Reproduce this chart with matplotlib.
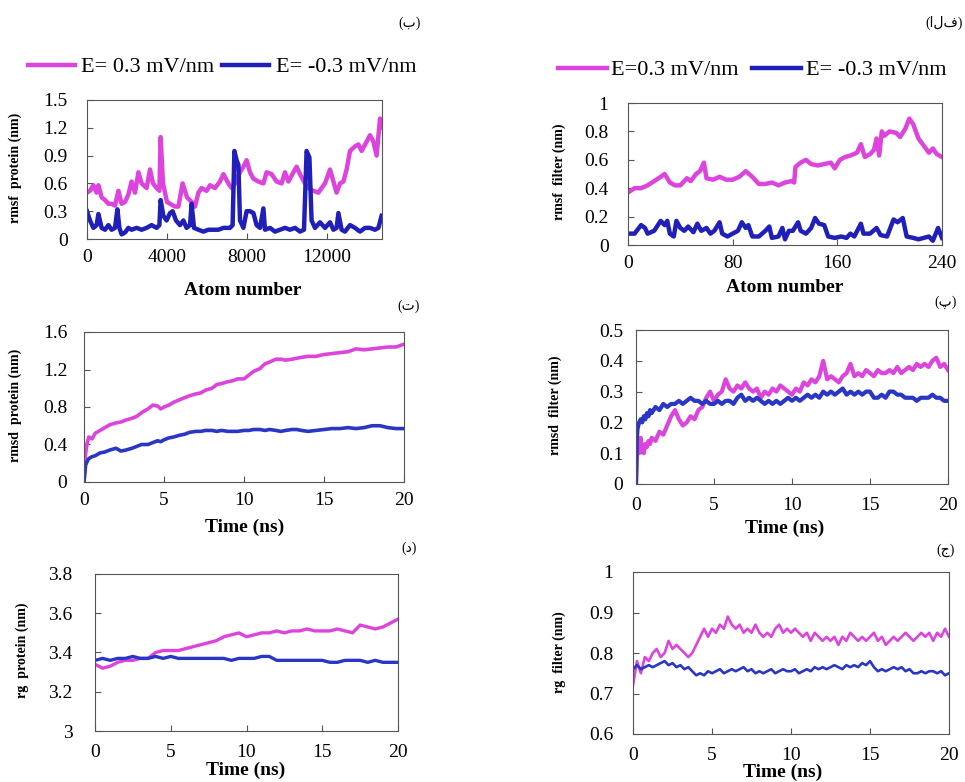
import matplotlib
matplotlib.use("Agg")
import matplotlib.pyplot as plt

plt.rcParams['font.family'] = ['Liberation Serif', 'DejaVu Sans']

PINK = '#DD44DD'
BLUE = '#2020B8'
BLUE2 = '#2A36C4'
LAB_POS = 'E= 0.3 mV/nm'
LAB_POS2 = 'E=0.3 mV/nm'
LAB_NEG = 'E= -0.3 mV/nm'

# ---------------- (ب) rmsf protein ----------------
rmsfp_pos_atom = [0, 150, 320, 480, 570, 730, 900, 1070, 1230, 1400, 1570, 1730, 1900, 2070, 2230,
                  2400, 2570, 2730, 2980, 3150, 3300, 3480, 3620, 3680, 3800, 4000, 4150, 4400,
                  4570, 4780, 5000, 5230, 5400, 5570, 5730, 5980, 6150, 6400, 6650, 6820, 7070,
                  7230, 7400, 7650, 7820, 7980, 8150, 8320, 8570, 8820, 8980, 9230, 9480, 9730,
                  9900, 10070, 10320, 10480, 10650, 10900, 11070, 11320, 11570, 11730, 11900,
                  12150, 12320, 12480, 12650, 12820, 12980, 13150, 13400, 13570, 13730, 13980,
                  14150, 14320, 14480, 14650, 14730]
rmsfp_pos = [0.50, 0.52, 0.58, 0.50, 0.58, 0.45, 0.42, 0.38, 0.38, 0.36, 0.52, 0.38, 0.40, 0.48, 0.62,
             0.50, 0.72, 0.60, 0.55, 0.75, 0.60, 0.55, 0.52, 1.10, 0.60, 0.40, 0.38, 0.35,
             0.35, 0.60, 0.45, 0.40, 0.35, 0.50, 0.55, 0.52, 0.58, 0.55, 0.62, 0.70, 0.60,
             0.55, 0.60, 0.72, 0.78, 0.85, 0.72, 0.65, 0.62, 0.60, 0.72, 0.70, 0.62, 0.60,
             0.72, 0.62, 0.72, 0.78, 0.70, 0.60, 0.55, 0.52, 0.50, 0.55, 0.60,
             0.75, 0.62, 0.50, 0.60, 0.62, 0.75, 0.95, 1.00, 1.02, 0.95, 1.05,
             1.12, 1.05, 0.90, 1.30, 1.20]
rmsfp_neg_atom = [0, 150, 320, 480, 570, 730, 900, 1070, 1230, 1400, 1520, 1620, 1730, 1900, 2070,
                  2230, 2480, 2730, 2980, 3230, 3480, 3620, 3680, 3820, 3980, 4150, 4280, 4450,
                  4650, 4820, 4980, 5150, 5230, 5350, 5570, 5820, 6070, 6320, 6570, 6820, 7150,
                  7280, 7370, 7480, 7570, 7650, 7820, 7980, 8150, 8320, 8480, 8650, 8820, 8900,
                  9150, 9400, 9650, 9900, 10150, 10400, 10650, 10850, 10980, 11120, 11230, 11400,
                  11650, 11900, 12150, 12320, 12480, 12570, 12730, 12900, 13150, 13400, 13650,
                  13900, 14150, 14400, 14570, 14730]
rmsfp_neg = [0.30, 0.20, 0.12, 0.15, 0.27, 0.12, 0.10, 0.15, 0.10, 0.12, 0.32, 0.12, 0.05, 0.07, 0.12,
             0.10, 0.12, 0.10, 0.12, 0.15, 0.12, 0.15, 0.42, 0.25, 0.20, 0.28, 0.30, 0.20,
             0.15, 0.20, 0.12, 0.15, 0.38, 0.12, 0.10, 0.08, 0.10, 0.10, 0.10, 0.12, 0.12,
             0.15, 0.95, 0.85, 0.80, 0.20, 0.12, 0.30, 0.30, 0.28, 0.15, 0.12, 0.33, 0.10,
             0.12, 0.08, 0.10, 0.12, 0.10, 0.12, 0.08, 0.10, 0.95, 0.88, 0.20, 0.12,
             0.18, 0.12, 0.18, 0.10, 0.12, 0.28, 0.10, 0.08, 0.15, 0.12, 0.08,
             0.12, 0.12, 0.10, 0.12, 0.25]

# ---------------- (الف) rmsf filter ----------------
rmsff_pos_atom = [0, 5, 10, 15, 20, 25, 28, 32, 36, 40, 45, 48, 52, 55, 58, 60, 65, 70, 75, 80, 85,
                  90, 95, 100, 105, 110, 115, 120, 125, 127, 128, 132, 136, 140, 145, 150, 155,
                  158, 162, 166, 170, 175, 178, 181, 185, 188, 190, 192, 194, 196, 200, 205, 208,
                  212, 215, 218, 222, 226, 230, 233, 236, 240]
rmsff_pos = [0.37, 0.40, 0.40, 0.42, 0.45, 0.48, 0.50, 0.44, 0.42, 0.42, 0.47, 0.45, 0.50, 0.52, 0.58,
             0.47, 0.46, 0.48, 0.46, 0.46, 0.48, 0.52, 0.48, 0.43, 0.43, 0.44, 0.42, 0.44, 0.45,
             0.44, 0.55, 0.58, 0.60, 0.57, 0.56, 0.57, 0.58, 0.54, 0.60, 0.62, 0.63, 0.65, 0.71,
             0.62, 0.64, 0.67, 0.75, 0.63, 0.80, 0.77, 0.80, 0.79, 0.76, 0.82, 0.89, 0.85, 0.75,
             0.70, 0.65, 0.68, 0.64, 0.62]
rmsff_neg_atom = [0, 5, 10, 13, 15, 20, 25, 28, 30, 32, 35, 37, 40, 43, 46, 50, 53, 56, 60, 63, 66,
                  70, 72, 76, 80, 84, 87, 90, 92, 95, 100, 105, 108, 110, 115, 118, 120, 123, 126,
                  130, 132, 136, 140, 143, 146, 150, 153, 158, 163, 167, 170, 173, 178, 180, 185,
                  190, 193, 198, 203, 206, 210, 213, 218, 222, 226, 230, 233, 237, 240]
rmsff_neg = [0.08, 0.08, 0.14, 0.12, 0.08, 0.10, 0.17, 0.14, 0.17, 0.08, 0.06, 0.17, 0.12, 0.10, 0.13,
             0.09, 0.15, 0.10, 0.12, 0.08, 0.10, 0.16, 0.08, 0.06, 0.08, 0.10, 0.16, 0.12, 0.14,
             0.06, 0.06, 0.10, 0.13, 0.05, 0.06, 0.12, 0.04, 0.10, 0.10, 0.16, 0.10, 0.08, 0.12,
             0.19, 0.15, 0.14, 0.06, 0.05, 0.06, 0.05, 0.08, 0.06, 0.15, 0.08, 0.08, 0.12, 0.07,
             0.06, 0.18, 0.16, 0.19, 0.06, 0.05, 0.04, 0.05, 0.06, 0.03, 0.12, 0.05]

# ---------------- (ت) rmsd protein ----------------
rmsdp_time = [0, 0.1, 0.2, 0.3, 0.5, 0.7, 1.0, 1.3, 1.6, 2.0, 2.3, 2.6, 3.0, 3.3, 3.6, 4.0, 4.3, 4.6,
              4.8, 5.0, 5.3, 5.6, 6.0, 6.3, 6.6, 7.0, 7.3, 7.6, 8.0, 8.3, 8.6, 9.0, 9.3, 9.6, 10.0,
              10.3, 10.6, 11.0, 11.3, 11.6, 12.0, 12.3, 12.6, 13.0, 13.3, 13.6, 14.0, 14.5, 15.0,
              15.5, 16.0, 16.5, 17.0, 17.5, 18.0, 18.5, 19.0, 19.5, 20.0]
rmsdp_pos = [0.00, 0.30, 0.42, 0.48, 0.46, 0.52, 0.55, 0.58, 0.61, 0.63, 0.64, 0.66, 0.68, 0.70, 0.74,
             0.78, 0.82, 0.81, 0.78, 0.80, 0.82, 0.85, 0.88, 0.90, 0.92, 0.94, 0.95, 0.98, 1.00,
             1.04, 1.05, 1.07, 1.08, 1.10, 1.10, 1.14, 1.18, 1.21, 1.26, 1.28, 1.31, 1.31, 1.30,
             1.31, 1.32, 1.33, 1.34, 1.34, 1.36, 1.37, 1.38, 1.39, 1.42, 1.41, 1.42, 1.43, 1.44,
             1.44, 1.47]
rmsdp_neg = [0.00, 0.18, 0.22, 0.25, 0.27, 0.28, 0.31, 0.32, 0.34, 0.36, 0.33, 0.34, 0.36, 0.38, 0.40,
             0.40, 0.42, 0.44, 0.43, 0.45, 0.47, 0.48, 0.50, 0.51, 0.53, 0.54, 0.54, 0.55, 0.55,
             0.54, 0.55, 0.54, 0.54, 0.54, 0.55, 0.55, 0.56, 0.56, 0.55, 0.56, 0.55, 0.54, 0.55,
             0.56, 0.56, 0.55, 0.54, 0.55, 0.56, 0.57, 0.57, 0.58, 0.57, 0.58, 0.60, 0.60, 0.58,
             0.57, 0.57]

# ---------------- (پ) rmsd filter ----------------
rmsdf_time = [0, 0.05, 0.1, 0.2, 0.3, 0.4, 0.5, 0.6, 0.7, 0.8, 0.9, 1.0,
              1.25, 1.5, 1.75, 2.0, 2.25, 2.5, 2.75, 3.0, 3.25, 3.5, 3.75, 4.0,
              4.25, 4.5, 4.75, 5.0, 5.25, 5.5, 5.75, 6.0, 6.25, 6.5, 6.75, 7.0,
              7.25, 7.5, 7.75, 8.0, 8.25, 8.5, 8.75, 9.0, 9.25, 9.5, 9.75, 10.0,
              10.25, 10.5, 10.75, 11.0, 11.25, 11.5, 11.75, 12.0, 12.25, 12.5, 12.75, 13.0,
              13.25, 13.5, 13.75, 14.0, 14.25, 14.5, 14.75, 15.0, 15.25, 15.5, 15.75, 16.0,
              16.25, 16.5, 16.75, 17.0, 17.25, 17.5, 17.75, 18.0, 18.25, 18.5, 18.75, 19.0,
              19.25, 19.5, 19.75, 20.0]
rmsdf_pos = [0.00, 0.08, 0.13, 0.10, 0.15, 0.11, 0.10, 0.13, 0.12, 0.14, 0.13, 0.15,
             0.14, 0.17, 0.16, 0.19, 0.22, 0.24, 0.21, 0.19, 0.20, 0.22, 0.21, 0.24,
             0.25, 0.28, 0.30, 0.27, 0.29, 0.30, 0.34, 0.31, 0.30, 0.32, 0.31, 0.33,
             0.31, 0.30, 0.31, 0.28, 0.30, 0.29, 0.31, 0.30, 0.32, 0.31, 0.30, 0.29,
             0.31, 0.30, 0.33, 0.32, 0.34, 0.33, 0.35, 0.40, 0.34, 0.35, 0.34, 0.33,
             0.35, 0.36, 0.39, 0.35, 0.36, 0.35, 0.37, 0.36, 0.35, 0.37, 0.36, 0.36,
             0.37, 0.36, 0.38, 0.36, 0.37, 0.38, 0.37, 0.39, 0.38, 0.39, 0.38, 0.40,
             0.41, 0.38, 0.39, 0.37]
rmsdf_neg = [0.00, 0.14, 0.18, 0.20, 0.21, 0.20, 0.22, 0.21, 0.23, 0.22, 0.24, 0.23,
             0.25, 0.24, 0.26, 0.25, 0.26, 0.26, 0.27, 0.26, 0.27, 0.28, 0.27, 0.27,
             0.26, 0.27, 0.26, 0.26, 0.27, 0.26, 0.27, 0.27, 0.26, 0.28, 0.29, 0.27,
             0.28, 0.27, 0.28, 0.27, 0.26, 0.27, 0.26, 0.27, 0.26, 0.27, 0.28, 0.27,
             0.28, 0.27, 0.28, 0.29, 0.28, 0.29, 0.28, 0.30, 0.29, 0.30, 0.29, 0.30,
             0.31, 0.29, 0.30, 0.29, 0.30, 0.29, 0.30, 0.30, 0.28, 0.28, 0.29, 0.28,
             0.30, 0.30, 0.29, 0.29, 0.28, 0.28, 0.28, 0.27, 0.28, 0.28, 0.28, 0.29,
             0.28, 0.28, 0.27, 0.27]

# ---------------- (د) rg protein ----------------
rgp_time = [0, 0.5, 1.0, 1.5, 2.0, 2.5, 3.0, 3.5, 4.0, 4.5, 5.0, 5.5, 6.0, 6.5, 7.0, 7.5, 8.0, 8.5,
            9.0, 9.5, 10.0, 10.5, 11.0, 11.5, 12.0, 12.5, 13.0, 13.5, 14.0, 14.5, 15.0, 15.5, 16.0,
            16.5, 17.0, 17.5, 18.0, 18.5, 19.0, 19.5, 20.0]
rgp_pos = [3.34, 3.32, 3.33, 3.35, 3.36, 3.36, 3.37, 3.37, 3.40, 3.41, 3.41, 3.41, 3.42, 3.43, 3.44,
           3.45, 3.46, 3.48, 3.49, 3.50, 3.48, 3.49, 3.50, 3.50, 3.51, 3.50, 3.51, 3.51, 3.52, 3.51,
           3.51, 3.51, 3.52, 3.51, 3.50, 3.54, 3.53, 3.52, 3.53, 3.55, 3.57]
rgp_neg = [3.36, 3.37, 3.36, 3.37, 3.37, 3.38, 3.37, 3.37, 3.38, 3.37, 3.38, 3.37, 3.37, 3.37, 3.37,
           3.37, 3.37, 3.37, 3.36, 3.37, 3.37, 3.37, 3.38, 3.38, 3.36, 3.36, 3.36, 3.36, 3.36, 3.36,
           3.36, 3.35, 3.35, 3.36, 3.36, 3.36, 3.35, 3.36, 3.35, 3.35, 3.35]

# ---------------- (ج) rg filter ----------------
rgf_time = [0, 0.25, 0.5, 0.75, 1.0, 1.25, 1.5, 1.75, 2.0, 2.25, 2.5, 2.75,
            3.0, 3.25, 3.5, 3.75, 4.0, 4.25, 4.5, 4.75, 5.0, 5.25, 5.5, 5.75,
            6.0, 6.25, 6.5, 6.75, 7.0, 7.25, 7.5, 7.75, 8.0, 8.25, 8.5, 8.75,
            9.0, 9.25, 9.5, 9.75, 10.0, 10.25, 10.5, 10.75, 11.0, 11.25, 11.5, 11.75,
            12.0, 12.25, 12.5, 12.75, 13.0, 13.25, 13.5, 13.75, 14.0, 14.25, 14.5, 14.75,
            15.0, 15.25, 15.5, 15.75, 16.0, 16.25, 16.5, 16.75, 17.0, 17.25, 17.5, 17.75,
            18.0, 18.25, 18.5, 18.75, 19.0, 19.25, 19.5, 19.75, 20.0]
rgf_pos = [0.72, 0.78, 0.75, 0.79, 0.78, 0.80, 0.81, 0.79, 0.80, 0.83, 0.81, 0.82,
           0.81, 0.80, 0.79, 0.80, 0.82, 0.84, 0.86, 0.84, 0.86, 0.85, 0.87, 0.86,
           0.89, 0.87, 0.86, 0.87, 0.85, 0.86, 0.85, 0.87, 0.85, 0.84, 0.85, 0.84,
           0.86, 0.87, 0.85, 0.86, 0.85, 0.86, 0.85, 0.84, 0.85, 0.83, 0.85, 0.84,
           0.83, 0.84, 0.83, 0.84, 0.82, 0.84, 0.83, 0.85, 0.84, 0.83, 0.84, 0.83,
           0.84, 0.85, 0.83, 0.84, 0.82, 0.83, 0.84, 0.83, 0.84, 0.85, 0.84, 0.83,
           0.84, 0.85, 0.84, 0.85, 0.83, 0.85, 0.84, 0.86, 0.84]
rgf_neg = [0.760, 0.770, 0.760, 0.765, 0.770, 0.765, 0.770, 0.775, 0.780, 0.770, 0.775, 0.765,
           0.770, 0.760, 0.765, 0.755, 0.745, 0.750, 0.745, 0.755, 0.750, 0.755, 0.760, 0.750,
           0.755, 0.760, 0.755, 0.760, 0.765, 0.755, 0.760, 0.750, 0.755, 0.750, 0.755, 0.760,
           0.750, 0.755, 0.760, 0.755, 0.755, 0.760, 0.750, 0.755, 0.760, 0.755, 0.765, 0.760,
           0.765, 0.760, 0.765, 0.770, 0.765, 0.760, 0.770, 0.765, 0.770, 0.765, 0.775, 0.770,
           0.780, 0.765, 0.755, 0.760, 0.755, 0.760, 0.765, 0.760, 0.765, 0.755, 0.760, 0.750,
           0.750, 0.755, 0.750, 0.755, 0.755, 0.750, 0.755, 0.745, 0.750]

# ---------------- layout ----------------
W, H = 965, 782
fig = plt.figure(figsize=(W / 100, H / 100), dpi=100)


def px_axes(l, t, r, b):
    return fig.add_axes([l / W, 1 - b / H, (r - l) / W, (b - t) / H])


def style(ax, xlim, ylim, xticks, yticks, xlabels, ylabels, xpad, ypad):
    ax.set_xlim(*xlim)
    ax.set_ylim(*ylim)
    ax.set_xticks(xticks)
    ax.set_xticklabels(xlabels)
    ax.set_yticks(yticks)
    ax.set_yticklabels(ylabels)
    for s in ax.spines.values():
        s.set_color('#555555')
        s.set_linewidth(0.8)
    ax.tick_params(direction='in', length=4, width=0.8, color='#555555', labelsize=14,
                   top=False, right=False)
    ax.tick_params(axis='x', pad=xpad)
    ax.tick_params(axis='y', pad=ypad)


def ftext(x, y, s, **kw):
    fig.text(x / W, 1 - y / H, s, **kw)


# Panel ب
axA = px_axes(87, 100, 382, 239)
axA.plot(rmsfp_pos_atom, rmsfp_pos, color=PINK, lw=3.2, label=LAB_POS)
axA.plot(rmsfp_neg_atom, rmsfp_neg, color=BLUE, lw=3.2, label=LAB_NEG)
style(axA, (0, 14750), (0, 1.5), [0, 4000, 8000, 12000], [0, 0.3, 0.6, 0.9, 1.2, 1.5],
      ['0', '4000', '8000', '12000'], ['0', '0.3', '0.6', '0.9', '1.2', '1.5'], 7.5, 14)

# Panel الف
axB = px_axes(628, 103, 942, 245)
axB.plot(rmsff_pos_atom, rmsff_pos, color=PINK, lw=3.2, label=LAB_POS2)
axB.plot(rmsff_neg_atom, rmsff_neg, color=BLUE, lw=3.2, label=LAB_NEG)
style(axB, (0, 240), (0, 1), [0, 80, 160, 240], [0, 0.2, 0.4, 0.6, 0.8, 1],
      ['0', '80', '160', '240'], ['0', '0.2', '0.4', '0.6', '0.8', '1'], 7, 14)

# Panel ت
axC = px_axes(84, 332, 404, 482)
axC.plot(rmsdp_time, rmsdp_pos, color=PINK, lw=2.6)
axC.plot(rmsdp_time, rmsdp_neg, color=BLUE2, lw=2.6)
style(axC, (0, 20), (0, 1.6), [0, 5, 10, 15, 20], [0, 0.4, 0.8, 1.2, 1.6],
      ['0', '5', '10', '15', '20'], ['0', '0.4', '0.8', '1.2', '1.6'], 7.5, 12)

# Panel پ
axD = px_axes(636, 330, 948, 484)
axD.plot(rmsdf_time, rmsdf_pos, color=PINK, lw=3.0)
axD.plot(rmsdf_time, rmsdf_neg, color=BLUE2, lw=3.0)
style(axD, (0, 20), (0, 0.5), [0, 5, 10, 15, 20], [0, 0.1, 0.2, 0.3, 0.4, 0.5],
      ['0', '5', '10', '15', '20'], ['0', '0.1', '0.2', '0.3', '0.4', '0.5'], 9.5, 9)

# Panel د
axE = px_axes(95, 574, 398, 731)
axE.plot(rgp_time, rgp_pos, color=PINK, lw=2.4)
axE.plot(rgp_time, rgp_neg, color=BLUE2, lw=2.4)
style(axE, (0, 20), (3, 3.8), [0, 5, 10, 15, 20], [3, 3.2, 3.4, 3.6, 3.8],
      ['0', '5', '10', '15', '20'], ['3', '3.2', '3.4', '3.6', '3.8'], 9.5, 16)

# Panel ج
axF = px_axes(633, 572, 949, 734)
axF.plot(rgf_time, rgf_pos, color=PINK, lw=1.9)
axF.plot(rgf_time, rgf_neg, color=BLUE2, lw=1.9)
style(axF, (0, 20), (0.6, 1), [0, 5, 10, 15, 20], [0.6, 0.7, 0.8, 0.9, 1],
      ['0', '5', '10', '15', '20'], ['0.6', '0.7', '0.8', '0.9', '1'], 9.5, 14)

# axis labels
lab = dict(fontsize=10, fontweight='bold', ha='center', va='center', rotation=90)
ftext(15, 168, 'rmsf  protein (nm)', **lab)
ftext(559, 172, 'rmsf  filter (nm)', **lab)
ftext(15, 405, 'rmsd  protein (nm)', **lab)
ftext(555, 405, 'rmsd  filter (nm)', **lab)
ftext(22, 650, 'rg  protein (nm)', **lab)
ftext(559, 652, 'rg  filter (nm)', **lab)

xl = dict(fontsize=14, fontweight='bold', ha='center', va='center')
ftext(243, 290, 'Atom number', **xl)
ftext(785, 288, 'Atom number', **xl)
ftext(245, 527, 'Time (ns)', **xl)
ftext(785, 528, 'Time (ns)', **xl)
ftext(246, 770, 'Time (ns)', **xl)
ftext(783, 772, 'Time (ns)', **xl)

# panel tags
tag = dict(fontsize=10, ha='center', va='center', family=['Liberation Serif', 'DejaVu Sans'])
ftext(410, 23, '(ب)', **tag)
ftext(944, 23, '(الف)', **tag)
ftext(409, 306, '(ت)', **tag)
ftext(946, 302, '(پ)', **tag)
ftext(409, 548, '(د)', **tag)
ftext(946, 550, '(ج)', **tag)

# legends
fig.legend(handles=axA.get_lines(), loc='center left', bbox_to_anchor=(28 / W, 1 - 67 / H),
           ncol=2, frameon=False, fontsize=16, handlelength=2.1, handletextpad=0.3,
           columnspacing=0.35, borderpad=0, borderaxespad=0)
fig.legend(handles=axB.get_lines(), loc='center left', bbox_to_anchor=(558 / W, 1 - 70 / H),
           ncol=2, frameon=False, fontsize=16, handlelength=2.2, handletextpad=0.2,
           columnspacing=0.6, borderpad=0, borderaxespad=0)

fig.savefig('out.png', dpi=100)
